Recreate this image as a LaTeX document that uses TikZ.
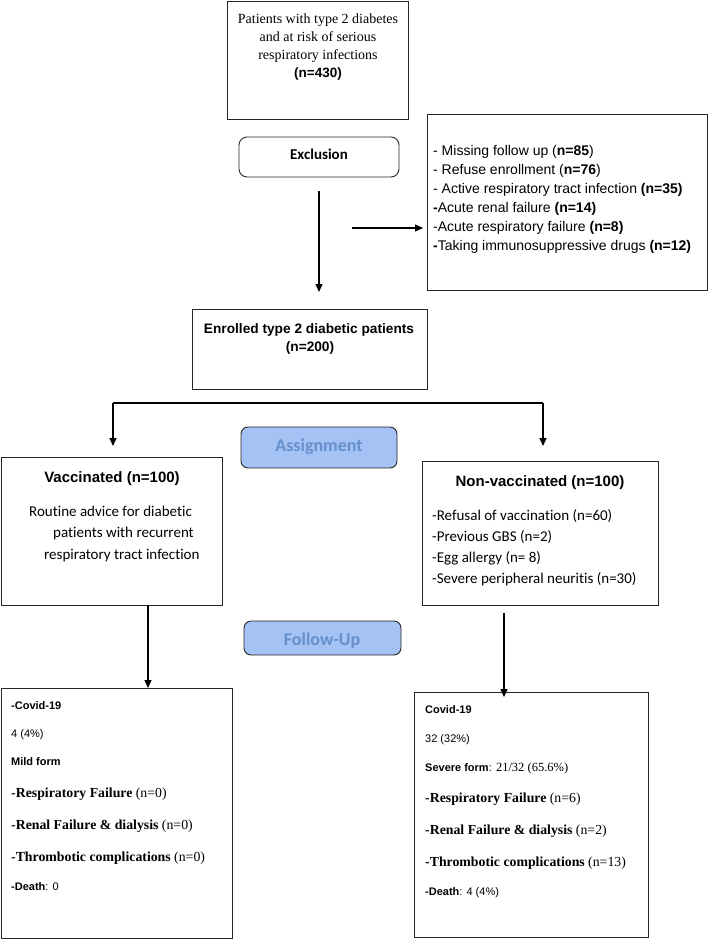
\documentclass[tikz,border=0pt]{standalone}
\usepackage{fontspec}
\setmainfont{Liberation Serif}
\newfontfamily\arialf{Liberation Sans}
\newfontfamily\calf{Carlito}[Ligatures={NoCommon}]
\usetikzlibrary{arrows.meta}
\definecolor{boxline}{HTML}{262626}
\definecolor{bluefill}{HTML}{A4C2F4}
\definecolor{bluetext}{HTML}{6690CC}
\newcommand{\fs}[1]{\fontsize{#1}{#1}\selectfont}
\tikzset{
  frame/.style={draw=boxline, line width=0.9pt, inner sep=0pt},
  rbox/.style={frame, rounded corners=8pt},
  bbox/.style={frame, rounded corners=7pt, fill=bluefill},
  tb/.style={inner sep=0pt, anchor=base},
  tbw/.style={inner sep=0pt, anchor=base west},
  conn/.style={draw=black, line width=1.2pt, -{Triangle[length=8pt,width=7pt]}},
  plainline/.style={draw=black, line width=1.2pt},
}
\begin{document}
\begin{tikzpicture}[x=1pt,y=-1pt]
\useasboundingbox (0,0) rectangle (709,941);
% boxes
\node[frame, minimum width=181pt, minimum height=118pt] (top) at (317.5,60) {};
\node[rbox, minimum width=160pt, minimum height=40pt] (excl) at (319,157) {};
\node[frame, minimum width=280pt, minimum height=176pt] (exlist) at (567,202) {};
\node[frame, minimum width=235pt, minimum height=80pt] (enr) at (309.5,349) {};
\node[bbox, minimum width=156pt, minimum height=41pt] (assign) at (319,447.5) {};
\node[frame, minimum width=221pt, minimum height=148pt] (vacc) at (111.5,531) {};
\node[frame, minimum width=236pt, minimum height=144pt] (nvacc) at (540,533) {};
\node[bbox, minimum width=157pt, minimum height=34pt] (follow) at (322.5,638) {};
\node[frame, minimum width=231pt, minimum height=250pt] (bl) at (116.5,813) {};
\node[frame, minimum width=234pt, minimum height=245pt] (br) at (531,814.5) {};

% top text
\node[tb, font=\fs{14}] (t1) at (318,23.5) {Patients with type 2 diabetes};
\node[tb, font=\fs{14}] (t2) at (318,41.8) {and at risk of serious};
\node[tb, font=\fs{14}] (t3) at (318,60) {respiratory infections};
\node[tb, font=\arialf\bfseries\fs{13.5}] (t4) at (318,78) {(n=430)};

\node[tb, font=\calf\bfseries\fs{15}] (ex) at (319,159.3) {Exclusion};

% exclusion list
\begin{scope}[every node/.style={tbw, font=\arialf\fs{14}}]
\node (l1) at (433,156) {- Missing follow up (\textbf{n=85})};
\node (l2) at (433,175) {- Refuse enrollment (\textbf{n=76})};
\node (l3) at (433,194) {- Active respiratory tract infection \textbf{(n=35)}};
\node (l4) at (433,212.5) {\textbf{-}Acute renal failure \textbf{(n=14)}};
\node (l5) at (433,231) {-Acute respiratory failure \textbf{(n=8)}};
\node (l6) at (433,250) {\textbf{-}Taking immunosuppressive drugs \textbf{(n=12)}};
\end{scope}

% enrolled
\node[tb, font=\arialf\bfseries\fs{13.7}] (en1) at (309,333) {Enrolled type 2 diabetic patients};
\node[tb, font=\arialf\bfseries\fs{13.7}] (en2) at (310,351.5) {(n=200)};

% assignment / follow-up
\node[tb, font=\calf\bfseries\fs{18}, text=bluetext] (as) at (319,451.5) {Assignment};
\node[tb, font=\calf\bfseries\fs{18}, text=bluetext] (fu) at (322,645) {Follow-Up};

% vaccinated
\node[tb, font=\arialf\bfseries\fs{15}] (v0) at (112,482.5) {Vaccinated (n=100)};
\begin{scope}[every node/.style={tbw, font=\calf\fs{15}}]
\node (v1) at (29,516.5) {Routine advice for diabetic};
\node (v2) at (53,537.5) {patients with recurrent};
\node (v3) at (44,559) {respiratory tract infection};
\end{scope}

% non-vaccinated
\node[tb, font=\arialf\bfseries\fs{15}] (n0) at (540,486) {Non-vaccinated (n=100)};
\begin{scope}[every node/.style={tbw, font=\calf\fs{15}}]
\node (n1) at (432,520) {-Refusal of vaccination (n=60)};
\node (n2) at (432,541.3) {-Previous GBS (n=2)};
\node (n3) at (432,562.5) {-Egg allergy (n= 8)};
\node (n4) at (432,583.5) {-Severe peripheral neuritis (n=30)};
\end{scope}

% bottom left
\begin{scope}[every node/.style={tbw}]
\node[font=\arialf\bfseries\fs{11}] (a1) at (11,709.3) {-Covid-19};
\node[font=\arialf\fs{11}] (a2) at (11,737.7) {4 (4\%)};
\node[font=\arialf\bfseries\fs{11}] (a3) at (11,765.5) {Mild form};
\node[font=\fs{13.8}] (a4) at (11,797.5) {\textbf{-Respiratory Failure} (n=0)};
\node[font=\fs{13.8}] (a5) at (11,829.5) {\textbf{-Renal Failure \& dialysis} (n=0)};
\node[font=\fs{13.8}] (a6) at (11,861.3) {\textbf{-Thrombotic complications} (n=0)};
\node[font=\arialf\fs{11}] (a7) at (11,890.5) {\textbf{-Death}: 0};
% bottom right
\node[font=\arialf\bfseries\fs{11}] (b1) at (425,713.3) {Covid-19};
\node[font=\arialf\fs{11}] (b2) at (425,742.3) {32 (32\%)};
\node[font=\arialf\fs{11}] (b3) at (425,771.7) {\textbf{Severe form}:{\rmfamily\fs{12.5} 21/32 (65.6\%)}};
\node[font=\fs{13.8}] (b4) at (425,802.7) {\textbf{-Respiratory Failure} (n=6)};
\node[font=\fs{13.8}] (b5) at (425,834.3) {\textbf{-Renal Failure \& dialysis} (n=2)};
\node[font=\fs{13.8}] (b6) at (425,866.5) {\textbf{-Thrombotic complications} (n=13)};
\node[font=\arialf\fs{11}] (b7) at (425,895.7) {\textbf{-Death}: 4 (4\%)};
\end{scope}

% connector endpoints
\coordinate (e1) at (319,191);
\coordinate (e2) at (319,292);
\coordinate (h1) at (352,228);
\coordinate (h2) at (423,228);
\coordinate (bk1) at (113,403);
\coordinate (bk2) at (543,403);
\coordinate (bk1e) at (113,446);
\coordinate (bk2e) at (543,446);
\coordinate (va) at (148,605);
\coordinate (vb) at (148,688);
\coordinate (na) at (504,613);
\coordinate (nb) at (504,697);

\draw[conn] (e1) -- (e2);
\draw[conn] (h1) -- (h2);
\draw[conn] (bk1) -- (bk1e);
\draw[plainline] (bk1) -- (bk2);
\draw[conn] (bk2) -- (bk2e);
\draw[conn] (va) -- (vb);
\draw[conn] (na) -- (nb);
\end{tikzpicture}
\end{document}
